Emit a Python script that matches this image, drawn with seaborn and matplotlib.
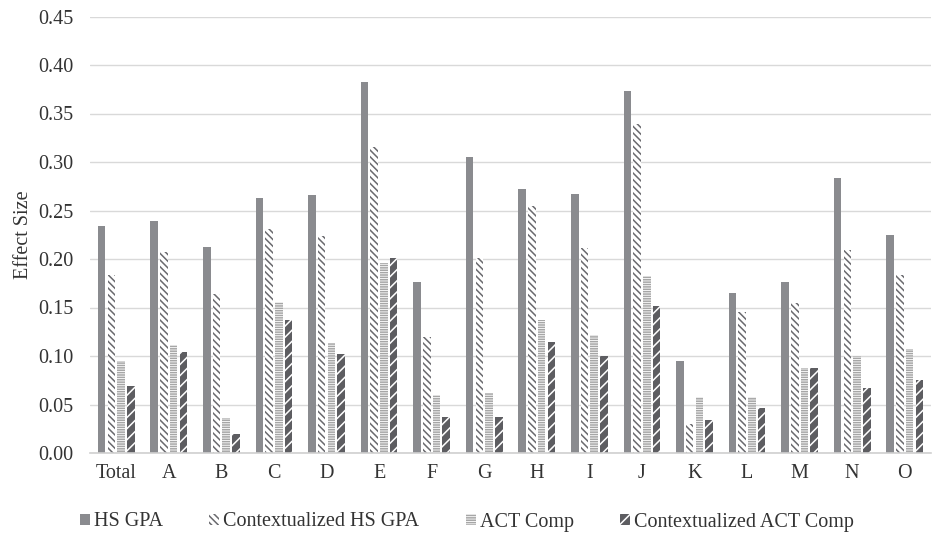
import numpy as np
import pandas as pd
import matplotlib
matplotlib.use("Agg")
import matplotlib.pyplot as plt
import seaborn as sns
from matplotlib.patches import Patch

categories = ["Total", "A", "B", "C", "D", "E", "F", "G", "H", "I", "J", "K", "L", "M", "N", "O"]
series_names = ["HS GPA", "Contextualized HS GPA", "ACT Comp", "Contextualized ACT Comp"]
hs_gpa = [0.234, 0.239, 0.212, 0.263, 0.266, 0.382, 0.176, 0.305, 0.272, 0.267, 0.373, 0.095, 0.165, 0.176, 0.284, 0.225]
ctx_hs_gpa = [0.183, 0.207, 0.164, 0.231, 0.224, 0.315, 0.120, 0.201, 0.255, 0.211, 0.339, 0.030, 0.145, 0.155, 0.209, 0.183]
act_comp = [0.095, 0.111, 0.036, 0.156, 0.113, 0.196, 0.060, 0.062, 0.137, 0.122, 0.182, 0.058, 0.058, 0.088, 0.100, 0.107]
ctx_act_comp = [0.069, 0.104, 0.020, 0.137, 0.102, 0.201, 0.037, 0.037, 0.114, 0.100, 0.152, 0.034, 0.046, 0.088, 0.067, 0.075]
y_ticks = [0.00, 0.05, 0.10, 0.15, 0.20, 0.25, 0.30, 0.35, 0.40, 0.45]

rows = []
for name, vals in zip(series_names, [hs_gpa, ctx_hs_gpa, act_comp, ctx_act_comp]):
    for c, v in zip(categories, vals):
        rows.append({"Category": c, "Series": name, "Value": v})
df = pd.DataFrame(rows)

sns.set_theme(style="white")
plt.rcParams["font.family"] = ["Liberation Serif", "DejaVu Serif"]
plt.rcParams["hatch.linewidth"] = 1.1

TEXT = "#333333"
FS = 14.5

fig = plt.figure(figsize=(9.34, 5.35), dpi=100)
ax = fig.add_axes([90 / 934, 1 - 453 / 535, 841 / 934, 436.5 / 535])

styles = [
    dict(face="#8a8b8f", edge="#8a8b8f", hatch=None),
    dict(face="white", edge="#6a6a6e", hatch="\\" * 5),
    dict(face="white", edge="#a6a6a6", hatch="-" * 7),
    dict(face="#5d5d61", edge="white", hatch="///"),
]

sns.barplot(data=df, x="Category", y="Value", hue="Series", order=categories,
            hue_order=series_names, ax=ax, width=0.74, gap=0.22,
            palette=["#8a8b8f"] * 4, legend=False, saturation=1)

for cont, st in zip(ax.containers, styles):
    for bar in cont:
        bar.set_facecolor(st["face"])
        bar.set_edgecolor(st["edge"])
        bar.set_linewidth(0)
        if st["hatch"]:
            bar.set_hatch(st["hatch"])

ax.set_ylim(0, 0.45)
ax.set_yticks(y_ticks)
ax.set_yticklabels([f"{t:.2f}" for t in y_ticks])
ax.set_xlim(-0.5, len(categories) - 0.5)
ax.yaxis.grid(True, color="#d9d9d9", linewidth=1)
ax.set_axisbelow(True)
for s in ["top", "right", "left"]:
    ax.spines[s].set_visible(False)
ax.spines["bottom"].set_color("#d0d0d0")
ax.spines["bottom"].set_linewidth(1.2)
ax.tick_params(axis="x", length=0, labelsize=FS, colors=TEXT, pad=8)
ax.tick_params(axis="y", length=0, labelsize=FS, colors=TEXT, pad=12)
ax.set_xlabel("")
ax.set_ylabel("Effect Size", fontsize=FS, color=TEXT, labelpad=4)

handles = []
for st in styles:
    handles.append(Patch(facecolor=st["face"], edgecolor=st["edge"], hatch=st["hatch"], linewidth=0))
leg = fig.legend(handles, series_names, loc="center", bbox_to_anchor=(0.5, 1 - 522 / 535),
                 ncol=4, frameon=False, fontsize=FS, handlelength=0.5, handleheight=0.5,
                 handletextpad=0.2, columnspacing=2.3, borderpad=0, borderaxespad=0)
for t in leg.get_texts():
    t.set_color(TEXT)

fig.savefig("out.png", dpi=100)
